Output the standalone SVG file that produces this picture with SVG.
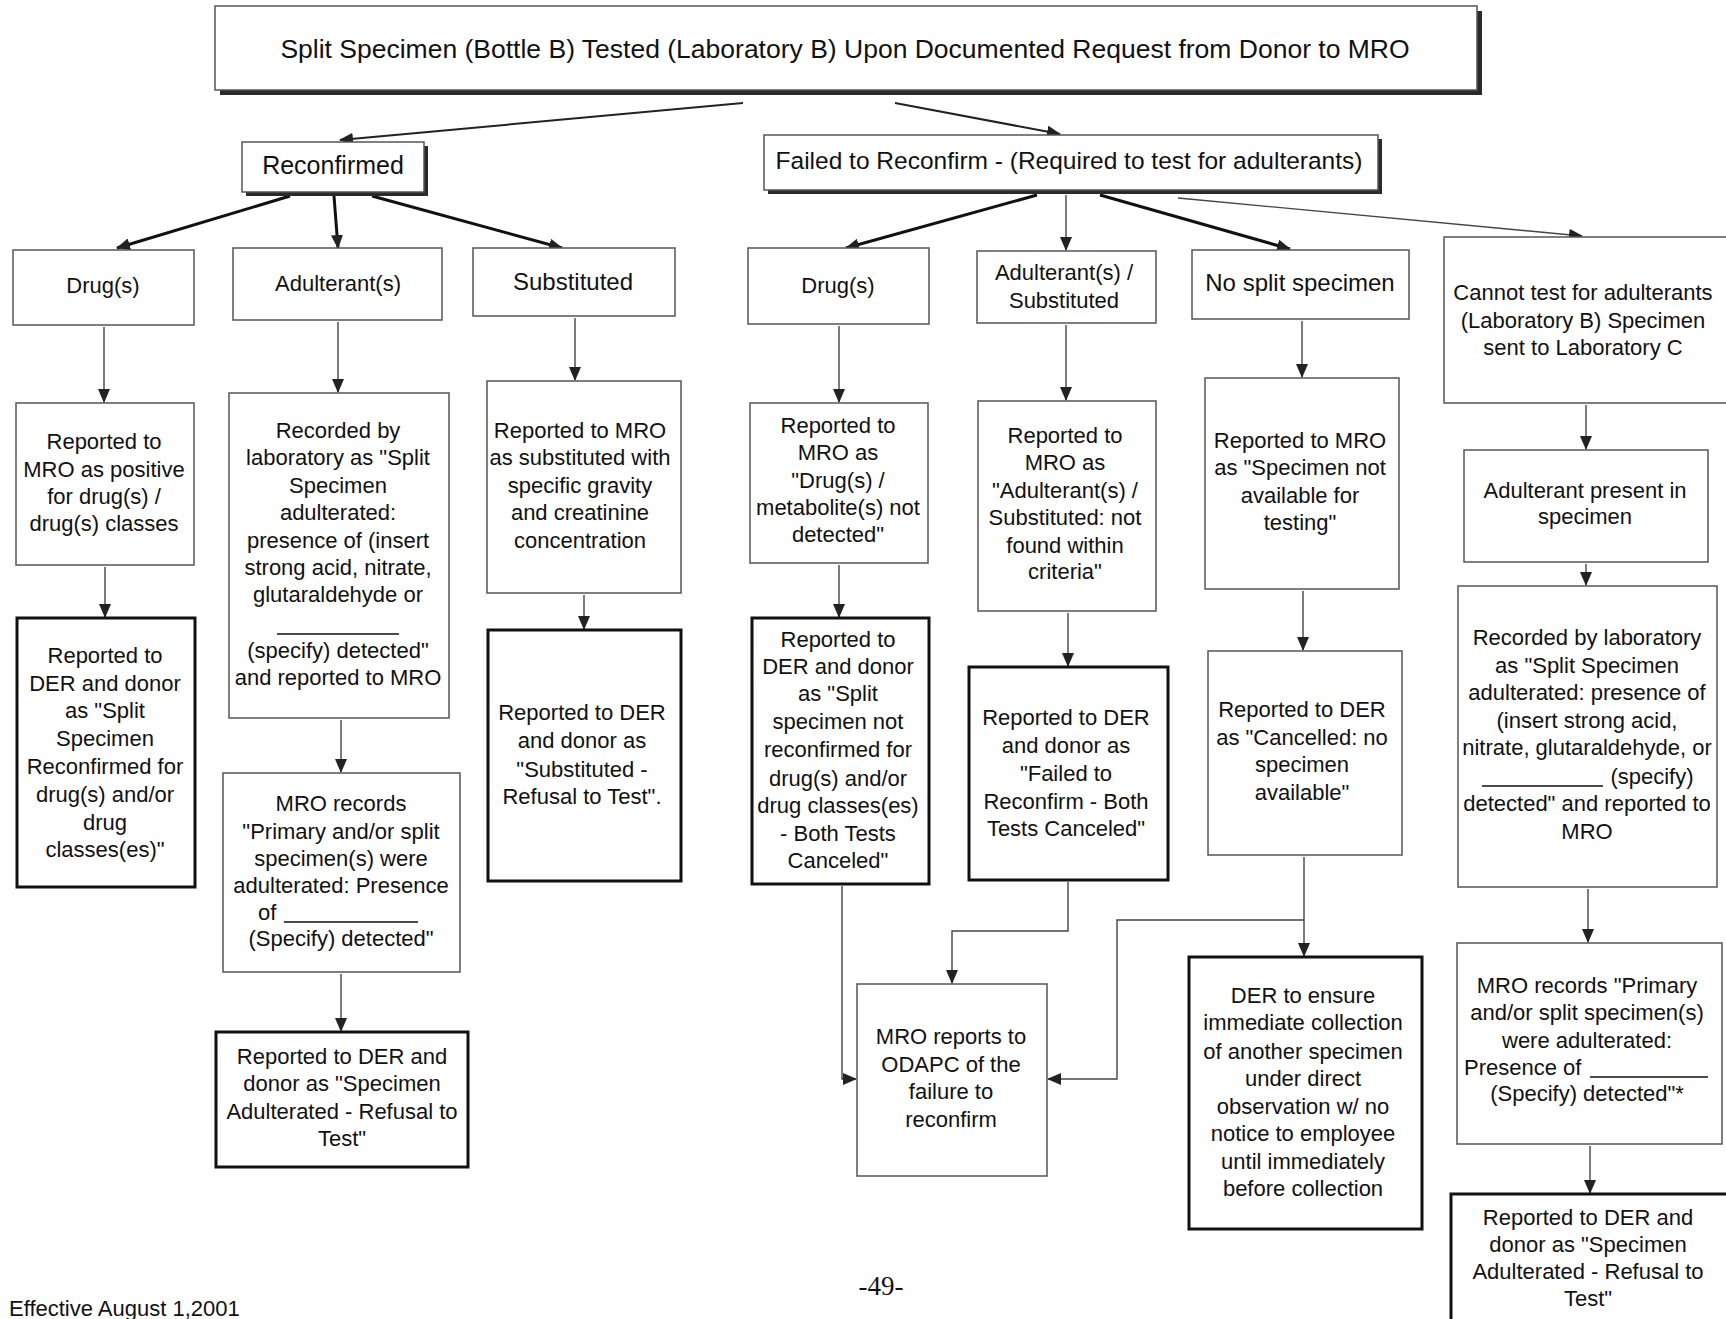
<svg xmlns="http://www.w3.org/2000/svg" width="1726" height="1319" viewBox="0 0 1726 1319">
<defs>
<style>
text{font-family:"Liberation Sans",Arial,sans-serif;font-size:22px;fill:#111;text-anchor:middle;transform:translate(0px,-2px)}
.big{font-size:25px}
.mid{font-size:22px}
.thin{fill:#fff;stroke:#555;stroke-width:1.5}
.thick{fill:#fff;stroke:#111;stroke-width:3}
.shadow{fill:#2a2a2a}
.c{fill:none;stroke:#444;stroke-width:1.4}
.cb{fill:none;stroke:#111;stroke-width:3}
.cm{fill:none;stroke:#222;stroke-width:2}
.ul{stroke:#111;stroke-width:1.5}
</style>
<marker id="ah" markerUnits="userSpaceOnUse" markerWidth="14" markerHeight="12" viewBox="0 0 14 12" refX="13" refY="6" orient="auto">
<path d="M0,0 L14,6 L0,12 z" fill="#222"/>
</marker>
</defs>

<g id="connectors">
<line class="cm" x1="743" y1="103" x2="340" y2="140" marker-end="url(#ah)"/>
<line class="cm" x1="895" y1="103" x2="1060" y2="134" marker-end="url(#ah)"/>
<line class="cb" x1="290" y1="196" x2="117" y2="248" marker-end="url(#ah)"/>
<line class="cb" x1="334" y1="196" x2="338" y2="248" marker-end="url(#ah)"/>
<line class="cb" x1="372" y1="196" x2="562" y2="248" marker-end="url(#ah)"/>
<line class="cb" x1="1037" y1="195" x2="846" y2="248" marker-end="url(#ah)"/>
<line class="c" x1="1066" y1="195" x2="1066" y2="250" marker-end="url(#ah)"/>
<line class="cb" x1="1100" y1="195" x2="1290" y2="249" marker-end="url(#ah)"/>
<line class="c" x1="1178" y1="198" x2="1582" y2="236" marker-end="url(#ah)"/>
<line class="c" x1="104" y1="327" x2="104" y2="402" marker-end="url(#ah)"/>
<line class="c" x1="105" y1="567" x2="105" y2="617" marker-end="url(#ah)"/>
<line class="c" x1="338" y1="322" x2="338" y2="392" marker-end="url(#ah)"/>
<line class="c" x1="341" y1="720" x2="341" y2="772" marker-end="url(#ah)"/>
<line class="c" x1="341" y1="974" x2="341" y2="1031" marker-end="url(#ah)"/>
<line class="c" x1="575" y1="318" x2="575" y2="380" marker-end="url(#ah)"/>
<line class="c" x1="584" y1="595" x2="584" y2="629" marker-end="url(#ah)"/>
<line class="c" x1="839" y1="326" x2="839" y2="402" marker-end="url(#ah)"/>
<line class="c" x1="839" y1="565" x2="839" y2="617" marker-end="url(#ah)"/>
<line class="c" x1="1066" y1="325" x2="1066" y2="400" marker-end="url(#ah)"/>
<line class="c" x1="1068" y1="613" x2="1068" y2="666" marker-end="url(#ah)"/>
<line class="c" x1="1302" y1="321" x2="1302" y2="377" marker-end="url(#ah)"/>
<line class="c" x1="1303" y1="591" x2="1303" y2="650" marker-end="url(#ah)"/>
<line class="c" x1="1586" y1="405" x2="1586" y2="449" marker-end="url(#ah)"/>
<line class="c" x1="1586" y1="564" x2="1586" y2="585" marker-end="url(#ah)"/>
<line class="c" x1="1588" y1="889" x2="1588" y2="942" marker-end="url(#ah)"/>
<line class="c" x1="1590" y1="1146" x2="1590" y2="1193" marker-end="url(#ah)"/>
<polyline class="c" points="842,886 842,1079 856,1079" marker-end="url(#ah)"/>
<polyline class="c" points="1068,882 1068,931 952,931 952,983" marker-end="url(#ah)"/>
<line class="c" x1="1304" y1="857" x2="1304" y2="956" marker-end="url(#ah)"/>
<polyline class="c" points="1304,920 1117,920 1117,1079 1048,1079" marker-end="url(#ah)"/>
</g>

<g id="title">
<rect class="shadow" x="220" y="11" width="1262" height="84"/>
<rect class="thin" x="215" y="6" width="1262" height="84"/>
<text x="845" y="60" style="font-size:26.5px">Split Specimen (Bottle B) Tested (Laboratory B) Upon Documented Request from Donor to MRO</text>
</g>
<g id="reconfirmed">
<rect class="shadow" x="246" y="146" width="182" height="50"/>
<rect class="thin" x="242" y="142" width="182" height="50"/>
<text class="big" x="333" y="176">Reconfirmed</text>
</g>
<g id="failed">
<rect class="shadow" x="768" y="139" width="614" height="55"/>
<rect class="thin" x="764" y="135" width="614" height="55"/>
<text x="1069" y="171" style="font-size:24.5px">Failed to Reconfirm - (Required to test for adulterants)</text>
</g>

<g id="drugL"><rect class="thin" x="13" y="250" width="181" height="75"/><text class="mid" x="103" y="295">Drug(s)</text></g>
<g id="adulterantL"><rect class="thin" x="233" y="248" width="209" height="72"/><text class="mid" x="338" y="293">Adulterant(s)</text></g>
<g id="substitutedL"><rect class="thin" x="473" y="248" width="202" height="68"/><text x="573" y="292" style="font-size:24px">Substituted</text></g>
<g id="drugR"><rect class="thin" x="748" y="248" width="181" height="76"/><text class="mid" x="838" y="295">Drug(s)</text></g>
<g id="adultSubR"><rect class="thin" x="977" y="251" width="179" height="72"/><text class="mid" x="1064"><tspan x="1064" y="282">Adulterant(s) /</tspan><tspan x="1064" y="310">Substituted</tspan></text></g>
<g id="noSplit"><rect class="thin" x="1192" y="250" width="217" height="69"/><text x="1300" y="293" style="font-size:24px">No split specimen</text></g>
<g id="cannotTest"><rect class="thin" x="1444" y="237" width="290" height="166"/><text><tspan x="1583" y="302">Cannot test for adulterants</tspan><tspan x="1583" y="330">(Laboratory B) Specimen</tspan><tspan x="1583" y="357">sent to Laboratory C</tspan></text></g>

<g id="posMRO"><rect class="thin" x="16" y="403" width="178" height="162"/><text><tspan x="104" y="451">Reported to</tspan><tspan x="104" y="479">MRO as positive</tspan><tspan x="104" y="506">for drug(s) /</tspan><tspan x="104" y="533">drug(s) classes</tspan></text></g>
<g id="recordedL"><rect class="thin" x="229" y="393" width="220" height="325"/><text><tspan x="338" y="440">Recorded by</tspan><tspan x="338" y="467">laboratory as "Split</tspan><tspan x="338" y="495">Specimen</tspan><tspan x="338" y="522">adulterated:</tspan><tspan x="338" y="550">presence of (insert</tspan><tspan x="338" y="577">strong acid, nitrate,</tspan><tspan x="338" y="604">glutaraldehyde or</tspan><tspan x="338" y="660">(specify) detected"</tspan><tspan x="338" y="687">and reported to MRO</tspan></text><line class="ul" x1="277" y1="634" x2="399" y2="634"/></g>
<g id="subMRO"><rect class="thin" x="487" y="381" width="194" height="212"/><text><tspan x="580" y="440">Reported to MRO</tspan><tspan x="580" y="467">as substituted with</tspan><tspan x="580" y="495">specific gravity</tspan><tspan x="580" y="522">and creatinine</tspan><tspan x="580" y="550">concentration</tspan></text></g>
<g id="drugRMRO"><rect class="thin" x="750" y="403" width="178" height="160"/><text><tspan x="838" y="435">Reported to</tspan><tspan x="838" y="462">MRO as</tspan><tspan x="838" y="490">"Drug(s) /</tspan><tspan x="838" y="517">metabolite(s) not</tspan><tspan x="838" y="544">detected"</tspan></text></g>
<g id="adultSubMRO"><rect class="thin" x="978" y="401" width="178" height="210"/><text><tspan x="1065" y="445">Reported to</tspan><tspan x="1065" y="472">MRO as</tspan><tspan x="1065" y="500">"Adulterant(s) /</tspan><tspan x="1065" y="527">Substituted: not</tspan><tspan x="1065" y="555">found within</tspan><tspan x="1065" y="581">criteria"</tspan></text></g>
<g id="noSplitMRO"><rect class="thin" x="1205" y="378" width="194" height="211"/><text><tspan x="1300" y="450">Reported to MRO</tspan><tspan x="1300" y="477">as "Specimen not</tspan><tspan x="1300" y="505">available for</tspan><tspan x="1300" y="532">testing"</tspan></text></g>
<g id="adultPresent"><rect class="thin" x="1464" y="450" width="244" height="112"/><text><tspan x="1585" y="500">Adulterant present in</tspan><tspan x="1585" y="526">specimen</tspan></text></g>

<g id="posDER"><rect class="thick" x="17" y="618" width="178" height="269"/><text><tspan x="105" y="665">Reported to</tspan><tspan x="105" y="693">DER and donor</tspan><tspan x="105" y="720">as "Split</tspan><tspan x="105" y="748">Specimen</tspan><tspan x="105" y="776">Reconfirmed for</tspan><tspan x="105" y="804">drug(s) and/or</tspan><tspan x="105" y="832">drug</tspan><tspan x="105" y="859">classes(es)"</tspan></text></g>
<g id="subDER"><rect class="thick" x="488" y="630" width="193" height="251"/><text><tspan x="582" y="722">Reported to DER</tspan><tspan x="582" y="750">and donor as</tspan><tspan x="582" y="779">"Substituted -</tspan><tspan x="582" y="806">Refusal to Test".</tspan></text></g>
<g id="drugRDER"><rect class="thick" x="752" y="618" width="177" height="266"/><text><tspan x="838" y="649">Reported to</tspan><tspan x="838" y="676">DER and donor</tspan><tspan x="838" y="703">as "Split</tspan><tspan x="838" y="731">specimen not</tspan><tspan x="838" y="759">reconfirmed for</tspan><tspan x="838" y="788">drug(s) and/or</tspan><tspan x="838" y="815">drug classes(es)</tspan><tspan x="838" y="843">- Both Tests</tspan><tspan x="838" y="870">Canceled"</tspan></text></g>
<g id="failedDER"><rect class="thick" x="969" y="667" width="199" height="213"/><text><tspan x="1066" y="727">Reported to DER</tspan><tspan x="1066" y="755">and donor as</tspan><tspan x="1066" y="783">"Failed to</tspan><tspan x="1066" y="811">Reconfirm - Both</tspan><tspan x="1066" y="838">Tests Canceled"</tspan></text></g>
<g id="cancelledDER"><rect class="thin" x="1208" y="651" width="194" height="204"/><text><tspan x="1302" y="719">Reported to DER</tspan><tspan x="1302" y="747">as "Cancelled: no</tspan><tspan x="1302" y="774">specimen</tspan><tspan x="1302" y="802">available"</tspan></text></g>
<g id="recordedR"><rect class="thin" x="1458" y="586" width="259" height="301"/><text><tspan x="1587" y="647">Recorded by laboratory</tspan><tspan x="1587" y="675">as "Split Specimen</tspan><tspan x="1587" y="702">adulterated: presence of</tspan><tspan x="1587" y="730">(insert strong acid,</tspan><tspan x="1587" y="757">nitrate, glutaraldehyde, or</tspan><tspan x="1652" y="786">(specify)</tspan><tspan x="1587" y="813">detected" and reported to</tspan><tspan x="1587" y="841">MRO</tspan></text><line class="ul" x1="1482" y1="786" x2="1603" y2="786"/></g>

<g id="mroRecordsL"><rect class="thin" x="223" y="773" width="237" height="199"/><text><tspan x="341" y="813">MRO records</tspan><tspan x="341" y="841">"Primary and/or split</tspan><tspan x="341" y="868">specimen(s) were</tspan><tspan x="341" y="895">adulterated: Presence</tspan><tspan x="258" y="922" style="text-anchor:start">of</tspan><tspan x="341" y="948">(Specify) detected"</tspan></text><line class="ul" x1="284" y1="922" x2="418" y2="922"/></g>
<g id="adultDERL"><rect class="thick" x="216" y="1032" width="252" height="135"/><text><tspan x="342" y="1066">Reported to DER and</tspan><tspan x="342" y="1093">donor as "Specimen</tspan><tspan x="342" y="1121">Adulterated - Refusal to</tspan><tspan x="342" y="1148">Test"</tspan></text></g>

<g id="odapc"><rect class="thin" x="857" y="984" width="190" height="192"/><text><tspan x="951" y="1046">MRO reports to</tspan><tspan x="951" y="1074">ODAPC of the</tspan><tspan x="951" y="1101">failure to</tspan><tspan x="951" y="1129">reconfirm</tspan></text></g>
<g id="derEnsure"><rect class="thick" x="1189" y="957" width="233" height="272"/><text><tspan x="1303" y="1005">DER to ensure</tspan><tspan x="1303" y="1032">immediate collection</tspan><tspan x="1303" y="1061">of another specimen</tspan><tspan x="1303" y="1088">under direct</tspan><tspan x="1303" y="1116">observation w/ no</tspan><tspan x="1303" y="1143">notice to employee</tspan><tspan x="1303" y="1171">until immediately</tspan><tspan x="1303" y="1198">before collection</tspan></text></g>
<g id="mroRecordsR"><rect class="thin" x="1457" y="943" width="265" height="201"/><text><tspan x="1587" y="995">MRO records "Primary</tspan><tspan x="1587" y="1022">and/or split specimen(s)</tspan><tspan x="1587" y="1050">were adulterated:</tspan><tspan x="1464" y="1077" style="text-anchor:start">Presence of</tspan><tspan x="1587" y="1103">(Specify) detected"*</tspan></text><line class="ul" x1="1590" y1="1077" x2="1708" y2="1077"/></g>
<g id="adultDERR"><rect class="thick" x="1451" y="1194" width="280" height="140"/><text><tspan x="1588" y="1227">Reported to DER and</tspan><tspan x="1588" y="1254">donor as  "Specimen</tspan><tspan x="1588" y="1281">Adulterated - Refusal to</tspan><tspan x="1588" y="1308">Test"</tspan></text></g>

<g id="footer">
<text x="9" y="1318" style="text-anchor:start;font-size:22px">Effective August 1,2001</text>
<text x="881" y="1297" style="font-family:'Liberation Serif',serif;font-size:27px">-49-</text>
</g>
</svg>
